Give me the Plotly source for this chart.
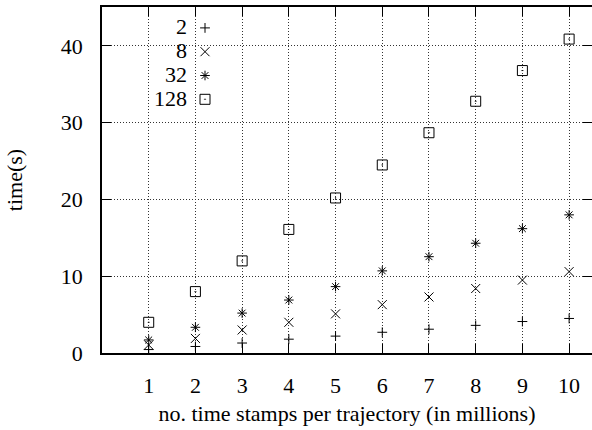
import plotly.graph_objects as go

x_vals = [1, 2, 3, 4, 5, 6, 7, 8, 9, 10]
labels = ["2", "8", "32", "128"]
t2 = [0.45, 0.85, 1.3, 1.8, 2.2, 2.7, 3.1, 3.6, 4.1, 4.5]
t8 = [1.05, 1.9, 3.0, 4.0, 5.1, 6.3, 7.3, 8.4, 9.5, 10.6]
t32 = [1.7, 3.35, 5.2, 6.9, 8.65, 10.7, 12.55, 14.3, 16.2, 18.0]
t128 = [4.0, 8.0, 12.0, 16.1, 20.2, 24.5, 28.7, 32.8, 36.8, 40.9]
series = [t2, t8, t32, t128]
y_ticks = [0, 10, 20, 30, 40]

symbols = ["cross-thin", "x-thin", "asterisk", "square-open-dot"]
sizes = [7, 9, 8, 10]

FONT = "Liberation Serif"
FS = 22

fig = go.Figure()
for lab, ys, sym, sz in zip(labels, series, symbols, sizes):
    fig.add_trace(go.Scatter(
        x=x_vals, y=ys, mode="markers", name=" ",
        hovertemplate=lab + ": %{x}, %{y}<extra></extra>",
        marker=dict(symbol=sym, size=sz, color="black",
                    line=dict(color="black", width=1)),
    ))

# label annotations for the key (text right-aligned, symbol to the right)
key_y = [27, 50, 74, 99]
for lab, yy in zip(labels, key_y):
    fig.add_annotation(text=lab, xref="paper", yref="paper",
                       x=(189 - 102) / 490, y=(353 - yy) / 346,
                       xanchor="right", yanchor="middle", showarrow=False,
                       font=dict(family=FONT, size=FS, color="black"))

# white box behind the key hiding the grid
fig.add_shape(type="rect", xref="paper", yref="paper",
              x0=0, x1=(251 - 102) / 490, y0=(353 - 113) / 346, y1=1,
              fillcolor="white", line=dict(width=0), layer="between")

axis_common = dict(
    showline=True, linecolor="black", linewidth=1.5, mirror="ticks",
    ticks="inside", ticklen=9, tickcolor="black", tickwidth=1.2,
    showgrid=True, gridcolor="#333", griddash="1px,2px", gridwidth=1,
    zeroline=False,
    tickfont=dict(family=FONT, size=FS, color="black"),
)

fig.update_xaxes(range=[0, 10.49], tickvals=x_vals,
                 ticktext=[str(v) for v in x_vals],
                 title=dict(text="no. time stamps per trajectory (in millions)",
                            font=dict(family=FONT, size=FS, color="black"),
                            standoff=8),
                 ticklabelstandoff=12, **axis_common)
fig.update_yaxes(range=[0, 45.08], tickvals=y_ticks,
                 title=dict(text="time(s)",
                            font=dict(family=FONT, size=FS, color="black"),
                            standoff=32),
                 ticklabelstandoff=13, **axis_common)

fig.update_layout(
    width=592, height=430,
    margin=dict(l=102, r=0, t=7, b=77, autoexpand=False),
    plot_bgcolor="white", paper_bgcolor="white",
    showlegend=True,
    legend=dict(x=(185 - 102) / 490, y=(353 - 11) / 346, xanchor="left",
                yanchor="top", bgcolor="rgba(0,0,0,0)",
                font=dict(family=FONT, size=16), tracegroupgap=0),
    font=dict(family=FONT, color="black"),
)

fig.write_html("out.html", config={"displayModeBar": False},
               post_script="document.body.style.margin='0';document.body.style.overflow='hidden';")
